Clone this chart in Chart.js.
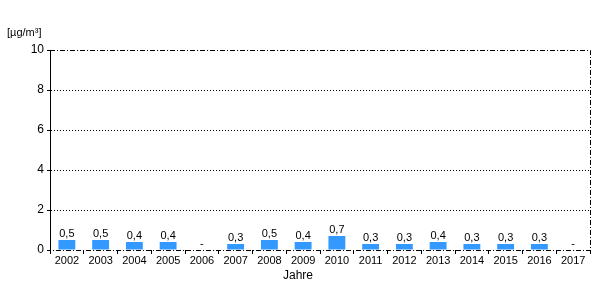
<!DOCTYPE html>
<html>
<head>
<meta charset="utf-8">
<script src="https://cdn.jsdelivr.net/npm/chart.js@4"></script>
<style>
  html, body { margin: 0; padding: 0; background: #fff; }
  #wrap { width: 600px; height: 300px; position: relative; }
</style>
</head>
<body>
<div id="wrap"><canvas id="chart"></canvas></div>
<script>
// --- data ---
const years = ['2002', '2003', '2004', '2005', '2006', '2007', '2008', '2009',
               '2010', '2011', '2012', '2013', '2014', '2015', '2016', '2017'];
const values = [0.5, 0.5, 0.4, 0.4, null, 0.3, 0.5, 0.4, 0.7, 0.3, 0.3, 0.4, 0.3, 0.3, 0.3, null];
const yTicks = [0, 2, 4, 6, 8, 10];
const unitLabel = '[µg/m³]';
const xTitle = 'Jahre';

const FONT = 'Liberation Sans, Arial, sans-serif';

// value labels above bars, "-" where no value
const labelPlugin = {
    id: 'labels',
    afterDatasetsDraw(chart) {
        const ctx = chart.ctx;
        const meta = chart.getDatasetMeta(0);
        const y = chart.scales.y;
        ctx.save();
        ctx.font = '11px ' + FONT;
        ctx.fillStyle = '#000';
        ctx.textAlign = 'center';
        ctx.textBaseline = 'alphabetic';
        meta.data.forEach((bar, i) => {
            const v = values[i];
            const txt = v == null ? '-' : v.toFixed(1).replace('.', ',');
            const top = v == null ? y.getPixelForValue(0) : bar.y;
            ctx.fillText(txt, bar.x, top - 3);
        });
        ctx.restore();
    }
};

// dash-dot frame on top, right and bottom, plus unit and axis title
const framePlugin = {
    id: 'frame',
    afterDraw(chart) {
        const { ctx, chartArea: a } = chart;
        ctx.save();
        ctx.strokeStyle = '#000';
        ctx.lineWidth = 1;
        ctx.setLineDash([5, 2, 1, 2]);
        ctx.beginPath();
        ctx.moveTo(a.left, a.top + 0.5);
        ctx.lineTo(a.right + 0.5, a.top + 0.5);
        ctx.lineTo(a.right + 0.5, a.bottom + 0.5);
        ctx.lineTo(a.left, a.bottom + 0.5);
        ctx.stroke();
        ctx.setLineDash([]);
        ctx.fillStyle = '#000';
        ctx.font = '11px ' + FONT;
        ctx.textBaseline = 'middle';
        ctx.textAlign = 'left';
        ctx.fillText(unitLabel, 7, 33);
        ctx.font = '12px ' + FONT;
        ctx.textAlign = 'center';
        ctx.fillText(xTitle, 298, 276);
        ctx.restore();
    }
};

new Chart(document.getElementById('chart'), {
    type: 'bar',
    data: {
        labels: years,
        datasets: [{
            data: values,
            backgroundColor: '#3399ff',
            borderWidth: 0,
            barPercentage: 0.5,
            categoryPercentage: 1
        }]
    },
    options: {
        responsive: true,
        maintainAspectRatio: false,
        animation: false,
        layout: { padding: { top: 50, right: 10, left: 0, bottom: 0 } },
        plugins: { legend: { display: false }, tooltip: { enabled: false } },
        scales: {
            x: {
                offset: true,
                grid: {
                    offset: true,
                    drawOnChartArea: false,
                    drawTicks: true,
                    tickLength: 4,
                    tickColor: '#000'
                },
                border: { display: false },
                ticks: { color: '#000', font: { family: FONT, size: 11 }, padding: 0, maxRotation: 0, autoSkip: false },
                afterFit: (s) => { s.height = 50; }
            },
            y: {
                min: 0,
                max: 10,
                afterBuildTicks: (s) => { s.ticks = yTicks.map(v => ({ value: v })); },
                grid: {
                    color: (c) => (c.tick && (c.tick.value === 0 || c.tick.value === 10)) ? 'rgba(0,0,0,0)' : '#000',
                    tickColor: '#000',
                    tickLength: 3,
                    tickBorderDash: []
                },
                border: { display: true, color: '#000', width: 1, dash: [1, 2] },
                ticks: { color: '#000', font: { family: FONT, size: 12 }, padding: 3 },
                afterFit: (s) => { s.width = 50; }
            }
        }
    },
    plugins: [labelPlugin, framePlugin]
});
</script>
</body>
</html>
